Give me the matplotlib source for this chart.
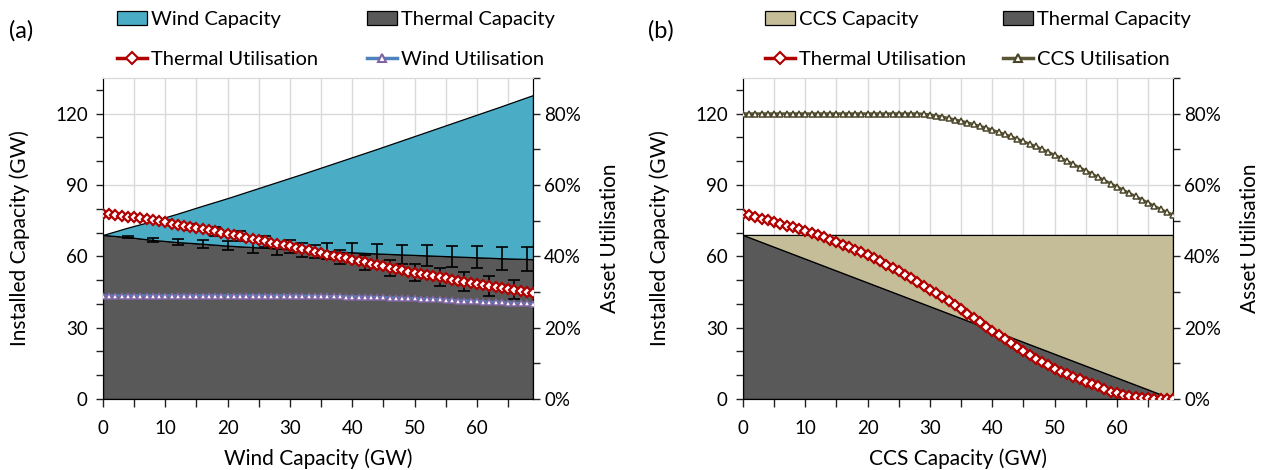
import matplotlib
matplotlib.use("Agg")
import matplotlib.pyplot as plt
from matplotlib.lines import Line2D
from matplotlib.patches import Patch
from matplotlib.ticker import MultipleLocator, FuncFormatter

plt.rcParams['font.family'] = ['Lato', 'DejaVu Sans']
plt.rcParams['font.size'] = 13

# ---- data ----
cap = list(range(70))  # installed wind / CCS capacity (GW)

# panel (a): stacked capacity
a_cap_x = [0, 4, 8, 12, 16, 20, 24, 28, 32, 36, 40, 44, 48, 52, 56, 60, 64, 68, 69]
a_thermal_cap = [69.0, 68.1, 66.9, 66.0, 65.3, 64.5, 63.9, 63.3, 62.7, 62.2,
                 61.7, 61.2, 60.8, 60.4, 60.0, 59.6, 59.2, 58.9, 58.8]
a_wind_cap = [0, 4, 8, 12, 16, 20, 24, 28, 32, 36, 40, 44, 48, 52, 56, 60, 64, 68, 69]
a_thermal_cap_err = [0.3, 0.8, 1.2, 1.6, 2.0, 2.4, 2.8, 3.1, 3.4, 3.7,
                     4.0, 4.1, 4.3, 4.5, 4.7, 4.9, 5.1]

a_thermal_util = [52.0, 51.8, 51.6, 51.3, 51.1, 50.9, 50.7, 50.4, 50.2, 49.9,
                  49.6, 49.2, 48.9, 48.6, 48.3, 48.0, 47.6, 47.3, 47.0, 46.6,
                  46.3, 45.9, 45.6, 45.2, 44.9, 44.5, 44.2, 43.8, 43.5, 43.1,
                  42.8, 42.4, 42.0, 41.7, 41.3, 40.9, 40.5, 40.1, 39.8, 39.4,
                  39.0, 38.6, 38.3, 37.9, 37.5, 37.2, 36.8, 36.5, 36.1, 35.7,
                  35.4, 35.0, 34.7, 34.4, 34.1, 33.8, 33.5, 33.2, 32.9, 32.6,
                  32.3, 32.0, 31.7, 31.4, 31.2, 30.9, 30.6, 30.3, 30.1, 29.8]
a_util_err_x = [2, 6, 10, 14, 18, 22, 26, 30, 34, 38, 42, 46, 50, 54, 58, 62, 66]
a_util_err = [0.2, 0.4, 0.6, 0.9, 1.2, 1.4, 1.6, 1.8, 1.9, 2.0,
              2.1, 2.2, 2.4, 2.5, 2.6, 2.7, 2.7]

a_wind_util = [29.0, 29.0, 29.0, 29.0, 29.0, 29.0, 29.0, 29.0, 29.0, 29.0,
               29.0, 29.0, 29.0, 29.0, 29.0, 29.0, 29.0, 29.0, 29.0, 29.0,
               29.0, 29.0, 29.0, 29.0, 29.0, 29.0, 29.0, 29.0, 29.0, 29.0,
               29.0, 29.0, 28.9, 28.9, 28.9, 28.9, 28.8, 28.8, 28.8, 28.7,
               28.7, 28.7, 28.6, 28.6, 28.5, 28.5, 28.4, 28.4, 28.3, 28.3,
               28.2, 28.1, 28.0, 28.0, 27.9, 27.8, 27.7, 27.6, 27.6, 27.5,
               27.4, 27.3, 27.2, 27.2, 27.1, 27.0, 26.9, 26.8, 26.8, 26.7]

# panel (b): stacked capacity
b_cap_x = [0, 69]
b_thermal_cap = [69, 0]
b_ccs_cap = [0, 69]

b_thermal_util = [52.0, 51.6, 51.1, 50.6, 50.1, 49.6, 49.1, 48.6, 48.1, 47.6,
                  47.1, 46.5, 45.9, 45.3, 44.7, 44.0, 43.3, 42.6, 41.9, 41.1,
                  40.3, 39.5, 38.6, 37.7, 36.8, 35.9, 34.9, 33.9, 32.9, 31.8,
                  30.7, 29.6, 28.5, 27.4, 26.3, 25.1, 23.9, 22.7, 21.5, 20.3,
                  19.1, 17.9, 16.7, 15.6, 14.5, 13.4, 12.3, 11.3, 10.3, 9.4,
                  8.5, 7.7, 6.9, 6.2, 5.5, 4.8, 4.2, 3.6, 2.7, 2.1,
                  1.6, 1.2, 0.9, 0.6, 0.4, 0.2, 0.1, 0.0, 0.0, 0.0]
b_ccs_util = [80.0, 80.0, 80.0, 80.0, 80.0, 80.0, 80.0, 80.0, 80.0, 80.0,
              80.0, 80.0, 80.0, 80.0, 80.0, 80.0, 80.0, 80.0, 80.0, 80.0,
              80.0, 80.0, 80.0, 80.0, 80.0, 80.0, 80.0, 80.0, 80.0, 79.9,
              79.7, 79.4, 79.1, 78.7, 78.3, 77.9, 77.5, 77.0, 76.5, 76.0,
              75.4, 74.8, 74.2, 73.6, 72.9, 72.2, 71.5, 70.8, 70.0, 69.2,
              68.4, 67.6, 66.7, 65.8, 64.9, 64.0, 63.1, 62.2, 61.3, 60.4,
              59.5, 58.6, 57.7, 56.8, 55.9, 55.0, 54.1, 53.2, 52.4, 51.6]

# ---- styles ----
WIND = '#4BACC6'
THERM = '#595959'
CCS = '#C4BD97'
RED = '#B00000'
GRID = '#D9D9D9'

fig = plt.figure(figsize=(12.61, 4.70), dpi=100)


def setup(ax, ax2, xlabel):
    ax.set_xlim(0, 69)
    ax.set_ylim(0, 135)
    ax2.set_ylim(0, 90)
    ax.xaxis.set_major_locator(MultipleLocator(5))
    ax.xaxis.set_major_formatter(FuncFormatter(lambda v, p: f"{v:.0f}" if v % 10 == 0 else ""))
    ax.yaxis.set_major_locator(MultipleLocator(30))
    ax.yaxis.set_minor_locator(MultipleLocator(10))
    ax2.yaxis.set_major_locator(MultipleLocator(20))
    ax2.yaxis.set_minor_locator(MultipleLocator(10))
    ax2.yaxis.set_major_formatter(FuncFormatter(lambda v, p: f"{v:.0f}%"))
    ax.grid(False)
    for v in range(5, 69, 5):
        ax.axvline(v, color=GRID, lw=1, zorder=0)
    for v in range(30, 135, 30):
        ax.axhline(v, color=GRID, lw=1, zorder=0)
    for a in (ax, ax2):
        a.tick_params(which='both', direction='out', length=5, width=1, colors='#222222',
                      labelcolor='black', labelsize=13.5)
        a.spines['top'].set_color(GRID)
    ax.tick_params(axis='x', length=6, pad=9)
    ax.tick_params(axis='y', pad=6)
    ax2.tick_params(axis='y', pad=3)
    ax2.spines['right'].set_color('black')
    ax.spines['left'].set_color('#222222')
    ax.spines['bottom'].set_color('black')
    ax.set_xlabel(xlabel, fontsize=15, labelpad=8)
    ax.set_ylabel('Installed Capacity (GW)', fontsize=15, labelpad=18)
    ax2.set_ylabel('Asset Utilisation', fontsize=15, labelpad=14)


def util_handle(color, edge, marker):
    return Line2D([], [], color=color, lw=2.5, marker=marker, markersize=6,
                  markerfacecolor='white', markeredgecolor=edge, markeredgewidth=1.5)


legend_kw = dict(ncol=2, loc='upper left', frameon=False, fontsize=14.5, handlelength=1.5,
                 handleheight=0.7, handletextpad=0.2, labelspacing=1.15, borderpad=0,
                 borderaxespad=0)

# ---- panel (a) ----
ax = fig.add_axes([103 / 1261, 71 / 470, 430 / 1261, 321 / 470])
ax2 = ax.twinx()
ax.stackplot(a_cap_x, a_thermal_cap, a_wind_cap, colors=[THERM, WIND],
             edgecolor='black', linewidth=0.9, zorder=2)
ax.errorbar(a_cap_x[1:18], a_thermal_cap[1:18], yerr=a_thermal_cap_err, fmt='none',
            ecolor='black', elinewidth=1.2, capsize=4, capthick=1.2, zorder=3)
ax2.errorbar(a_util_err_x, [a_thermal_util[i] for i in a_util_err_x], yerr=a_util_err,
             fmt='none', ecolor='black', elinewidth=1.2, capsize=4, capthick=1.2, zorder=2)
ax2.plot(cap, a_wind_util, color='#4F81BD', lw=2, marker='^', markersize=5,
         markerfacecolor='white', markeredgecolor='#8064A2', markeredgewidth=1.1, zorder=3)
ax2.plot(cap, a_thermal_util, color=RED, lw=2, marker='D', markersize=5.5,
         markerfacecolor='white', markeredgecolor=RED, markeredgewidth=1.6, zorder=4)
setup(ax, ax2, 'Wind Capacity (GW)')

handles_a = [Patch(facecolor=WIND, edgecolor='black', lw=0.9),
             util_handle(RED, RED, 'D'),
             Patch(facecolor=THERM, edgecolor='black', lw=0.9),
             util_handle('#4F81BD', '#8064A2', '^')]
labels_a = ['Wind Capacity', 'Thermal Utilisation', 'Thermal Capacity', 'Wind Utilisation']
fig.legend(handles_a, labels_a, bbox_to_anchor=(117 / 1261, 1 - 11 / 470),
           columnspacing=2.4, **legend_kw)
fig.text(9 / 1261, 1 - 31 / 470, '(a)', fontsize=17, va='center', ha='left')

# ---- panel (b) ----
bx = fig.add_axes([743 / 1261, 71 / 470, 430 / 1261, 321 / 470])
bx2 = bx.twinx()
bx.stackplot(b_cap_x, b_thermal_cap, b_ccs_cap, colors=[THERM, CCS],
             edgecolor='black', linewidth=0.9, zorder=2)
bx2.plot(cap, b_ccs_util, color='#5A5535', lw=2, marker='^', markersize=5,
         markerfacecolor='white', markeredgecolor='#4A4528', markeredgewidth=1.1, zorder=3)
bx2.plot(cap, b_thermal_util, color=RED, lw=2, marker='D', markersize=5.5,
         markerfacecolor='white', markeredgecolor=RED, markeredgewidth=1.6, zorder=4)
setup(bx, bx2, 'CCS Capacity (GW)')

handles_b = [Patch(facecolor=CCS, edgecolor='black', lw=0.9),
             util_handle(RED, RED, 'D'),
             Patch(facecolor=THERM, edgecolor='black', lw=0.9),
             util_handle('#5A5535', '#4A4528', '^')]
labels_b = ['CCS Capacity', 'Thermal Utilisation', 'Thermal Capacity', 'CCS Utilisation']
fig.legend(handles_b, labels_b, bbox_to_anchor=(765 / 1261, 1 - 11 / 470),
           columnspacing=1.8, **legend_kw)
fig.text(648 / 1261, 1 - 31 / 470, '(b)', fontsize=17, va='center', ha='left')

fig.savefig('out.png', dpi=100)
